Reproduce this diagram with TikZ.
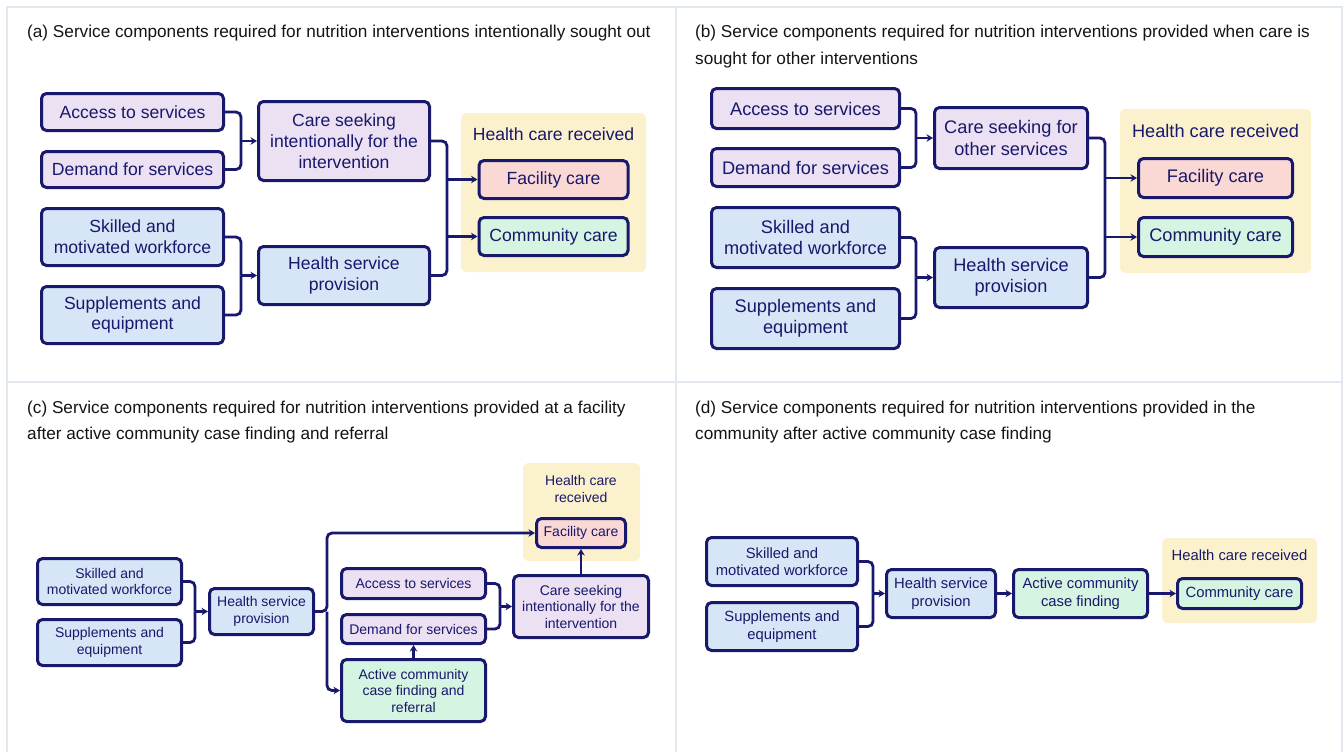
\documentclass[tikz,border=0pt]{standalone}
\usepackage{fontspec}
\setmainfont{Liberation Sans}
\usetikzlibrary{arrows.meta}

\definecolor{navy}{RGB}{24,24,108}
\definecolor{lilac}{RGB}{236,224,243}
\definecolor{skyfill}{RGB}{214,230,246}
\definecolor{rosefill}{RGB}{250,216,212}
\definecolor{mintfill}{RGB}{213,244,225}
\definecolor{cream}{RGB}{251,242,205}
\definecolor{gridline}{RGB}{226,232,240}
\definecolor{ink}{RGB}{20,20,20}

\newcommand{\fsa}{\fontsize{17.6}{20.8}\selectfont}
\newcommand{\fsb}{\fontsize{18.2}{21.5}\selectfont}
\newcommand{\fsc}{\fontsize{14}{16.5}\selectfont}
\newcommand{\fsd}{\fontsize{14.8}{17.5}\selectfont}
\newcommand{\fst}{\fontsize{17.2}{26}\selectfont}

\tikzset{
  box/.style={draw=navy, text=navy, line width=3pt, rounded corners=5pt,
              align=center, inner sep=0pt},
  pur/.style={box, fill=lilac},
  blu/.style={box, fill=skyfill},
  pnk/.style={box, fill=rosefill},
  grn/.style={box, fill=mintfill},
  panelbg/.style={fill=cream, rounded corners=6pt},
  hcr/.style={text=navy, align=center, inner sep=0pt},
  conn/.style={draw=navy, line width=2.8pt, rounded corners=5pt},
  arr/.style={conn, -{Stealth[length=6.5pt,width=7.5pt]}},
  ttl/.style={text=ink, anchor=base west, inner sep=0pt, font=\fst},
  frame/.style={draw=gridline, line width=1.5pt}
}

\begin{document}
\begin{tikzpicture}[x=1pt,y=-1pt]
\useasboundingbox (0,0) rectangle (1344,752);
\fill[white] (0,0) rectangle (1344,752);

% panel frame
\draw[frame] (7,752) -- (7,7) -- (1342,7) -- (1342,752);
\draw[frame] (676,7) -- (676,752);
\draw[frame] (7,382) -- (1342,382);

% ---------- titles ----------
\node[ttl] (ta1) at (27,38) {(a) Service components required for nutrition interventions intentionally sought out};
\node[ttl] (tb1) at (695,38) {(b) Service components required for nutrition interventions provided when care is};
\node[ttl] (tb2) at (695,64) {sought for other interventions};
\node[ttl] (tc1) at (27,413) {(c) Service components required for nutrition interventions provided at a facility};
\node[ttl] (tc2) at (27,439) {after active community case finding and referral};
\node[ttl] (td1) at (695,413) {(d) Service components required for nutrition interventions provided in the};
\node[ttl] (td2) at (695,439) {community after active community case finding};

% ---------- panel (a) ----------
\fill[panelbg] (461,113) rectangle (646,272);
\node[hcr, font=\fsa] (ahcr) at (553.5,134) {Health care received};
\node[pur, font=\fsa, minimum width=182pt, minimum height=37pt] (a1) at (132.5,112) {Access to services};
\node[pur, font=\fsa, minimum width=182pt, minimum height=36pt] (a2) at (132.5,169.5) {Demand for services};
\node[blu, font=\fsa, minimum width=182pt, minimum height=57pt] (a3) at (132.5,237) {Skilled and\\motivated workforce};
\node[blu, font=\fsa, minimum width=182pt, minimum height=57pt] (a4) at (132.5,315) {Supplements and\\equipment};
\node[pur, font=\fsa, minimum width=171pt, minimum height=79pt] (a5) at (344,141) {Care seeking\\intentionally for the\\intervention};
\node[blu, font=\fsa, minimum width=171pt, minimum height=58pt] (a6) at (344,275.5) {Health service\\provision};
\node[pnk, font=\fsa, minimum width=149pt, minimum height=38pt] (a7) at (553.5,179.5) {Facility care};
\node[grn, font=\fsa, minimum width=149pt, minimum height=38pt] (a8) at (553.5,236.5) {Community care};

\coordinate (ja1) at (241,141);
\coordinate (ja2) at (241,275.5);
\coordinate (jat) at (447,208);
\draw[conn] (a1.east) -| (ja1);
\draw[conn] (a2.east) -| (ja1);
\draw[arr] (ja1) -- (a5.west);
\draw[conn] (a3.east) -| (ja2);
\draw[conn] (a4.east) -| (ja2);
\draw[arr] (ja2) -- (a6.west);
\draw[conn] (a5.east) -| (jat) |- (a6.east);
\draw[arr] (jat |- a7.west) -- (a7.west);
\draw[arr] (jat |- a8.west) -- (a8.west);

% ---------- panel (b) ----------
\fill[panelbg] (1120,109) rectangle (1311,273);
\node[hcr, font=\fsb] (bhcr) at (1215.5,131) {Health care received};
\node[pur, font=\fsb, minimum width=188pt, minimum height=40pt] (b1) at (805.5,108.5) {Access to services};
\node[pur, font=\fsb, minimum width=188pt, minimum height=38pt] (b2) at (805.5,167.5) {Demand for services};
\node[blu, font=\fsb, minimum width=188pt, minimum height=60pt] (b3) at (805.5,237.5) {Skilled and\\motivated workforce};
\node[blu, font=\fsb, minimum width=188pt, minimum height=60pt] (b4) at (805.5,318.5) {Supplements and\\equipment};
\node[pur, font=\fsb, minimum width=153pt, minimum height=61pt] (b5) at (1011,138) {Care seeking for\\other services};
\node[blu, font=\fsb, minimum width=153pt, minimum height=60pt] (b6) at (1011,277.5) {Health service\\provision};
\node[pnk, font=\fsb, minimum width=154pt, minimum height=39pt] (b7) at (1215.5,178) {Facility care};
\node[grn, font=\fsb, minimum width=154pt, minimum height=39pt] (b8) at (1215.5,237) {Community care};

\coordinate (jb1) at (916,138);
\coordinate (jb2) at (916,277.5);
\coordinate (jbt) at (1105,208);
\draw[conn] (b1.east) -| (jb1);
\draw[conn] (b2.east) -| (jb1);
\draw[arr] (jb1) -- (b5.west);
\draw[conn] (b3.east) -| (jb2);
\draw[conn] (b4.east) -| (jb2);
\draw[arr] (jb2) -- (b6.west);
\draw[conn] (b5.east) -| (jbt) |- (b6.east);
\draw[arr] (jbt |- b7.west) -- (b7.west);
\draw[arr] (jbt |- b8.west) -- (b8.west);

% ---------- panel (c) ----------
\fill[panelbg] (523,463) rectangle (640,561);
\node[hcr, font=\fsc] (chcr) at (581,489) {Health care\\received};
\node[blu, font=\fsc, minimum width=144pt, minimum height=46pt] (c1) at (109.5,581.5) {Skilled and\\motivated workforce};
\node[blu, font=\fsc, minimum width=144pt, minimum height=46pt] (c2) at (109.5,642.5) {Supplements and\\equipment};
\node[blu, font=\fsc, minimum width=104pt, minimum height=46pt] (c3) at (261.5,611.5) {Health service\\provision};
\node[pur, font=\fsc, minimum width=144pt, minimum height=30pt] (c4) at (413.5,583.5) {Access to services};
\node[pur, font=\fsc, minimum width=144pt, minimum height=29pt] (c5) at (413.5,629) {Demand for services};
\node[grn, font=\fsc, minimum width=144pt, minimum height=62pt] (c6) at (413.5,690.5) {Active community\\case finding and\\referral};
\node[pur, font=\fsc, minimum width=135pt, minimum height=62pt] (c7) at (581,606.5) {Care seeking\\intentionally for the\\intervention};
\node[pnk, font=\fsc, minimum width=89pt, minimum height=29pt] (c8) at (581,533) {Facility care};

\coordinate (jc1) at (195,611.5);
\coordinate (jc2) at (327,611.5);
\coordinate (jc3) at (500,606.5);
\draw[conn] (c1.east) -| (jc1);
\draw[conn] (c2.east) -| (jc1);
\draw[arr] (jc1) -- (c3.west);
\draw[arr] (c3.east) -- (jc2) |- (c8.west);
\draw[arr] (jc2) |- (c6.west);
\draw[conn] (c4.east) -| (jc3);
\draw[conn] (c5.east) -| (jc3);
\draw[arr] (jc3) -- (c7.west);
\draw[arr] (c6.north) -- (c5.south);
\draw[arr] (c7.north) -- (c8.south);

% ---------- panel (d) ----------
\fill[panelbg] (1162,538) rectangle (1317,623);
\node[hcr, font=\fsd] (dhcr) at (1239.5,555) {Health care received};
\node[blu, font=\fsd, minimum width=151pt, minimum height=48pt] (d1) at (782,561.5) {Skilled and\\motivated workforce};
\node[blu, font=\fsd, minimum width=151pt, minimum height=48pt] (d2) at (782,626.5) {Supplements and\\equipment};
\node[blu, font=\fsd, minimum width=109pt, minimum height=48pt] (d3) at (941,593.5) {Health service\\provision};
\node[grn, font=\fsd, minimum width=134pt, minimum height=48pt] (d4) at (1080.5,593.5) {Active community\\case finding};
\node[grn, font=\fsd, minimum width=124pt, minimum height=30pt] (d5) at (1239.5,593.5) {Community care};

\coordinate (jd1) at (873,593.5);
\draw[conn] (d1.east) -| (jd1);
\draw[conn] (d2.east) -| (jd1);
\draw[arr] (jd1) -- (d3.west);
\draw[arr] (d3.east) -- (d4.west);
\draw[arr] (d4.east) -- (d5.west);
\end{tikzpicture}
\end{document}
